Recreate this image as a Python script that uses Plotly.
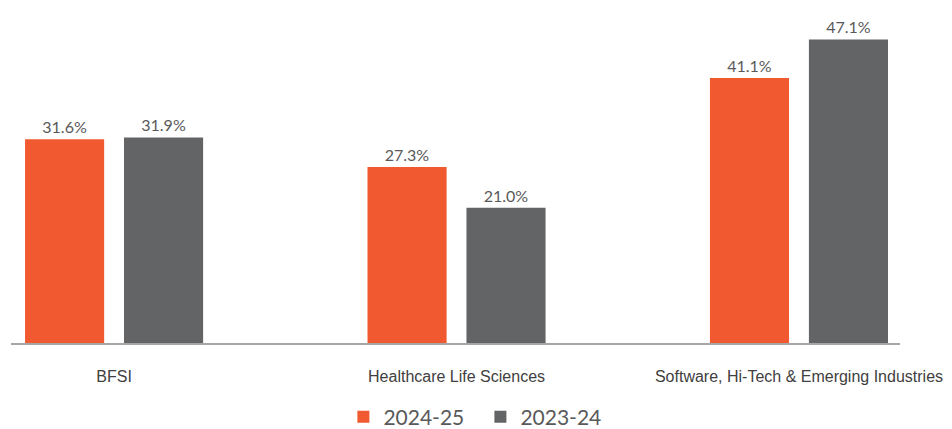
import plotly.graph_objects as go

# Segment revenue share, two fiscal years
segments = ["BFSI", "Healthcare Life Sciences", "Software, Hi-Tech & Emerging Industries"]
fy_2024_25 = [31.6, 27.3, 41.1]
fy_2023_24 = [31.9, 21.0, 47.1]
series_names = ["2024-25", "2023-24"]
title_text = "Revenue share by segments"

ORANGE = "#F15A31"
GREY = "#636466"
TEXT = "#595959"

xs = list(range(len(segments)))

fig = go.Figure()
for name, vals, color, off in [
    (series_names[0], fy_2024_25, ORANGE, -0.260),
    (series_names[1], fy_2023_24, GREY, 0.029),
]:
    fig.add_trace(go.Bar(
        x=xs, y=vals, name=name,
        marker=dict(color=color, line=dict(width=0)),
        width=0.231, offset=off,
        text=[f"{v:.1f}%" for v in vals],
        textposition="outside",
        textfont=dict(family="Lato, Roboto, sans-serif", size=16, color=TEXT),
        cliponaxis=False,
    ))

fig.update_layout(
    width=952, height=429,
    margin=dict(l=11, r=52, t=22, b=86, autoexpand=False),
    paper_bgcolor="white", plot_bgcolor="white",
    barmode="overlay",
    showlegend=True,
    legend=dict(
        orientation="h", x=0.528, xanchor="center",
        yref="container", y=0.028, yanchor="middle",
        font=dict(family="Lato, Roboto, sans-serif", size=21, color=TEXT),
        itemwidth=30, entrywidth=92, traceorder="normal",
    ),
    xaxis=dict(
        range=[-0.301, 2.295],
        tickmode="array", tickvals=xs, ticktext=segments,
        tickfont=dict(family="Liberation Sans, Arial, sans-serif", size=16, color="#404040"),
        showgrid=False, zeroline=False,
        showline=True, linecolor="#A6A6A6", linewidth=2,
        ticks="", ticklabelstandoff=18,
    ),
    yaxis=dict(range=[0, 49.8], visible=False, showgrid=False, zeroline=False),
    annotations=[dict(
        text=title_text, xref="paper", yref="paper",
        x=0.015, xanchor="left", y=1.0, yanchor="bottom", yshift=19,
        showarrow=False,
        font=dict(family="Lato, Roboto, sans-serif", size=20, color="#404040"),
    )],
)

fig.write_html("out.html")
